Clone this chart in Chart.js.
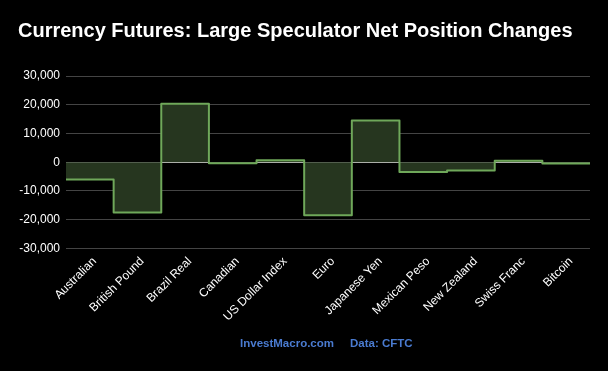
<!DOCTYPE html>
<html>
<head>
<meta charset="utf-8">
<script src="https://cdn.jsdelivr.net/npm/chart.js@4/dist/chart.umd.min.js"></script>
<style>
    html, body { margin: 0; padding: 0; background: #000; }
    #wrap { width: 608px; height: 371px; }
</style>
</head>
<body>
<div id="wrap"><canvas id="chart"></canvas></div>
<script>
var categories = ["Australian", "British Pound", "Brazil Real", "Canadian", "US Dollar Index", "Euro",
    "Japanese Yen", "Mexican Peso", "New Zealand", "Swiss Franc", "Bitcoin"];
var netChange = [-6000, -17500, 20300, -400, 700, -18500, 14500, -3400, -2900, 500, -450];
var yTicks = [-30000, -20000, -10000, 0, 10000, 20000, 30000];

// each category becomes a flat step from i-0.5 to i+0.5
var steps = [];
netChange.forEach((v, i) => {
    steps.push({ x: i - 0.5, y: v });
    steps.push({ x: i + 0.5, y: v });
});

var footerText = {
    id: "footerText",
    afterDraw(chart) {
        var ctx = chart.ctx;
        var area = chart.chartArea;
        var cx = (area.left + area.right) / 2;
        ctx.save();
        ctx.font = "bold 11.5px 'Liberation Sans', Arial, sans-serif";
        ctx.fillStyle = "#4a7bd0";
        ctx.textBaseline = "middle";
        ctx.textAlign = "right";
        ctx.fillText("InvestMacro.com", cx + 6, 344);
        ctx.textAlign = "left";
        ctx.fillText("Data: CFTC", cx + 22, 344);
        ctx.restore();
    }
};

new Chart(document.getElementById("chart"), {
    type: "line",
    data: {
        datasets: [
            {
                data: steps,
                borderColor: "#6fa85a",
                borderWidth: 2,
                backgroundColor: "#26361f",
                fill: "origin",
                pointRadius: 0,
                tension: 0,
                borderJoinStyle: "round",
            },
        ],
    },
    options: {
        responsive: true,
        maintainAspectRatio: false,
        animation: false,
        layout: { padding: { left: 18, right: 18, top: 0, bottom: 49 } },
        plugins: {
            legend: { display: false },
            tooltip: { enabled: false },
            title: {
                display: true,
                text: "Currency Futures: Large Speculator Net Position Changes",
                align: "start",
                color: "#ffffff",
                font: { family: "'Liberation Sans', Arial, sans-serif", size: 20, weight: "bold" },
                padding: { top: 19, bottom: 33 },
            },
        },
        scales: {
            x: {
                type: "linear",
                min: -0.5,
                max: 10.5,
                // labels sit a little right of the step centre, as in the source
                afterBuildTicks: (scale) => {
                    scale.ticks = categories.map((c, i) => ({ value: i + 0.1 }));
                },
                grid: { display: false },
                border: { display: false },
                ticks: {
                    color: "#ffffff",
                    minRotation: 45,
                    maxRotation: 45,
                    autoSkip: false,
                    padding: -2,
                    font: { family: "'Liberation Sans', Arial, sans-serif", size: 12 },
                    callback: (value) => categories[Math.round(value)],
                },
            },
            y: {
                min: -30000,
                max: 30000,
                afterBuildTicks: (scale) => {
                    scale.ticks = yTicks.map((v) => ({ value: v }));
                },
                afterFit: (scale) => {
                    scale.width = 48;
                },
                border: { display: false },
                grid: {
                    drawTicks: false,
                    color: (ctx) => (ctx.tick && ctx.tick.value === 0 ? "#d8d8d8" : "#444444"),
                    lineWidth: 1,
                },
                ticks: {
                    color: "#ffffff",
                    padding: 6,
                    font: { family: "'Liberation Sans', Arial, sans-serif", size: 12 },
                    callback: (value) => value.toLocaleString("en-US"),
                },
            },
        },
    },
    plugins: [footerText],
});
</script>
</body>
</html>
